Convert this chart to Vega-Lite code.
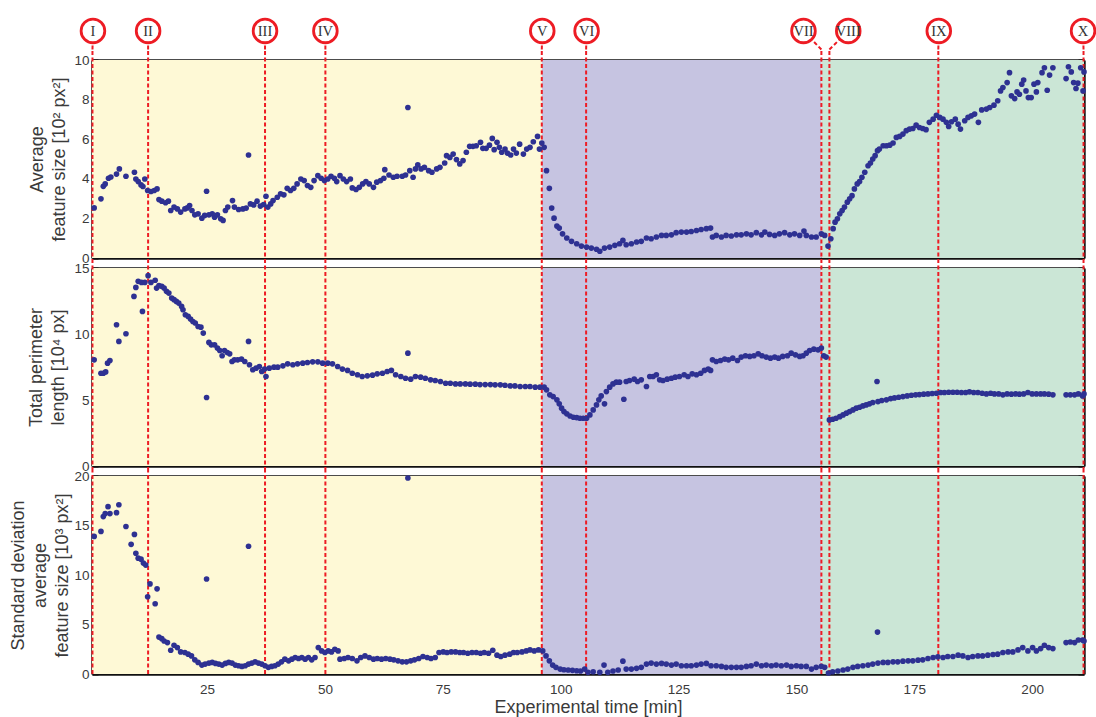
{
  "$schema": "https://vega.github.io/schema/vega-lite/v6.json",
  "background": "white",
  "padding": {"left": 9, "top": 13, "right": 8, "bottom": 0},
  "spacing": 10,
  "bounds": "flush",
  "datasets": {
    "stages": [
      {"stage": "I-V", "start": 0.6, "end": 96.0},
      {"stage": "V-VII", "start": 96.0, "end": 155.3},
      {"stage": "VII-X", "start": 155.3, "end": 211}
    ],
    "events": [
      {"event": "I", "t": 0.7, "tagT": 0.8},
      {"event": "II", "t": 12.5, "tagT": 12.5},
      {"event": "III", "t": 37.3, "tagT": 37.3},
      {"event": "IV", "t": 50.1, "tagT": 50.1},
      {"event": "V", "t": 96.0, "tagT": 96.1},
      {"event": "VI", "t": 105.4, "tagT": 105.5},
      {"event": "VII", "t": 155.3, "tagT": 151.5},
      {"event": "VIII", "t": 157.0, "tagT": 161.0},
      {"event": "IX", "t": 180.1, "tagT": 180.2},
      {"event": "X", "t": 210.9, "tagT": 210.8}
    ],
    "avg": [
      {"t":1.06,"v":2.53},{"t":2.5,"v":2.99},{"t":3.0,"v":3.62},{"t":3.4,"v":3.74},{"t":4.1,"v":4.03},{"t":4.6,"v":4.09},{"t":5.8,"v":4.24},{"t":6.4,"v":4.5},{"t":7.8,"v":4.13},{"t":9.6,"v":4.33},{"t":9.9,"v":3.99},{"t":10.4,"v":3.86},{"t":11.0,"v":3.69},{"t":11.4,"v":3.61},{"t":11.8,"v":3.99},{"t":12.4,"v":3.41},{"t":13.1,"v":3.36},{"t":13.8,"v":3.41},{"t":14.4,"v":3.49},{"t":14.8,"v":2.95},{"t":15.4,"v":2.87},{"t":16.2,"v":2.79},{"t":16.8,"v":2.87},{"t":17.3,"v":2.40},{"t":18.0,"v":2.57},{"t":18.7,"v":2.48},{"t":19.4,"v":2.32},{"t":20.3,"v":2.48},{"t":20.8,"v":2.53},{"t":21.3,"v":2.65},{"t":21.8,"v":2.40},{"t":22.4,"v":2.18},{"t":23.1,"v":2.23},{"t":23.9,"v":2.01},{"t":24.5,"v":2.15},{"t":24.9,"v":3.37},{"t":25.4,"v":2.18},{"t":26.1,"v":2.23},{"t":26.6,"v":2.06},{"t":27.2,"v":2.18},{"t":27.9,"v":1.98},{"t":28.4,"v":1.90},{"t":28.9,"v":2.40},{"t":29.4,"v":2.57},{"t":30.4,"v":2.90},{"t":30.8,"v":2.57},{"t":31.7,"v":2.45},{"t":32.6,"v":2.48},{"t":33.3,"v":2.52},{"t":33.8,"v":5.2},{"t":34.2,"v":2.73},{"t":34.9,"v":2.68},{"t":35.6,"v":2.87},{"t":36.3,"v":2.62},{"t":37.0,"v":2.70},{"t":37.5,"v":3.12},{"t":37.9,"v":2.57},{"t":38.5,"v":2.73},{"t":39.0,"v":2.90},{"t":39.9,"v":3.07},{"t":40.6,"v":3.24},{"t":41.3,"v":3.19},{"t":42.0,"v":3.52},{"t":42.7,"v":3.41},{"t":43.4,"v":3.52},{"t":44.1,"v":3.74},{"t":44.9,"v":3.99},{"t":45.6,"v":3.91},{"t":46.3,"v":3.66},{"t":47.0,"v":3.57},{"t":47.7,"v":3.91},{"t":48.5,"v":4.16},{"t":49.2,"v":4.03},{"t":49.9,"v":3.91},{"t":50.6,"v":3.99},{"t":51.3,"v":4.13},{"t":52.0,"v":4.03},{"t":52.5,"v":3.86},{"t":53.2,"v":4.16},{"t":53.9,"v":3.99},{"t":54.6,"v":3.86},{"t":55.4,"v":3.99},{"t":55.8,"v":3.54},{"t":56.6,"v":3.46},{"t":57.3,"v":3.57},{"t":58.0,"v":3.74},{"t":58.7,"v":3.86},{"t":59.4,"v":3.74},{"t":60.3,"v":3.57},{"t":61.0,"v":3.83},{"t":61.8,"v":3.91},{"t":62.5,"v":4.03},{"t":62.7,"v":4.46},{"t":63.6,"v":4.19},{"t":64.5,"v":4.08},{"t":65.3,"v":4.13},{"t":66.4,"v":4.13},{"t":67.1,"v":4.19},{"t":67.6,"v":7.6},{"t":68.0,"v":4.41},{"t":68.7,"v":4.08},{"t":69.2,"v":4.5},{"t":69.7,"v":4.70},{"t":70.4,"v":4.5},{"t":71.1,"v":4.58},{"t":72.0,"v":4.41},{"t":72.7,"v":4.33},{"t":73.7,"v":4.5},{"t":74.4,"v":4.58},{"t":75.4,"v":4.80},{"t":75.8,"v":5.17},{"t":76.5,"v":5.08},{"t":77.2,"v":5.25},{"t":77.9,"v":4.97},{"t":78.6,"v":4.75},{"t":79.3,"v":4.92},{"t":80.0,"v":5.34},{"t":80.7,"v":5.64},{"t":81.4,"v":5.64},{"t":82.1,"v":5.67},{"t":83.0,"v":5.84},{"t":83.5,"v":5.54},{"t":84.2,"v":5.54},{"t":84.9,"v":5.70},{"t":85.5,"v":6.04},{"t":85.9,"v":5.47},{"t":86.5,"v":5.84},{"t":87.0,"v":5.59},{"t":87.5,"v":5.34},{"t":88.2,"v":5.50},{"t":88.7,"v":5.30},{"t":89.4,"v":5.20},{"t":90.0,"v":5.50},{"t":90.6,"v":5.30},{"t":91.3,"v":5.75},{"t":92.1,"v":5.25},{"t":92.8,"v":5.50},{"t":93.5,"v":5.59},{"t":94.2,"v":5.87},{"t":95.1,"v":6.14},{"t":95.5,"v":5.50},{"t":96.0,"v":5.81},{"t":96.5,"v":5.59},{"t":97.0,"v":4.41},{"t":97.6,"v":3.52},{"t":98.1,"v":2.52},{"t":98.6,"v":2.01},{"t":99.2,"v":1.61},{"t":99.7,"v":1.51},{"t":100.4,"v":1.22},{"t":101.3,"v":1.01},{"t":102.3,"v":0.84},{"t":103.4,"v":0.72},{"t":104.4,"v":0.60},{"t":105.5,"v":0.55},{"t":106.5,"v":0.50},{"t":107.6,"v":0.44},{"t":108.3,"v":0.34},{"t":109.3,"v":0.50},{"t":110.4,"v":0.55},{"t":111.5,"v":0.64},{"t":112.5,"v":0.72},{"t":113.2,"v":0.89},{"t":113.9,"v":0.67},{"t":115.0,"v":0.72},{"t":116.1,"v":0.81},{"t":117.1,"v":0.84},{"t":118.2,"v":1.01},{"t":119.2,"v":0.97},{"t":120.3,"v":1.06},{"t":121.4,"v":1.14},{"t":122.4,"v":1.14},{"t":123.5,"v":1.17},{"t":124.5,"v":1.28},{"t":125.6,"v":1.31},{"t":126.7,"v":1.31},{"t":127.7,"v":1.34},{"t":128.8,"v":1.39},{"t":129.8,"v":1.44},{"t":130.9,"v":1.48},{"t":131.8,"v":1.51},{"t":132.2,"v":1.06},{"t":133.0,"v":1.14},{"t":134.1,"v":1.06},{"t":135.1,"v":1.14},{"t":136.2,"v":1.11},{"t":137.3,"v":1.17},{"t":138.3,"v":1.17},{"t":139.4,"v":1.22},{"t":140.4,"v":1.17},{"t":141.5,"v":1.28},{"t":142.6,"v":1.17},{"t":143.3,"v":1.31},{"t":144.3,"v":1.19},{"t":145.4,"v":1.14},{"t":146.4,"v":1.22},{"t":147.5,"v":1.28},{"t":148.6,"v":1.17},{"t":149.6,"v":1.22},{"t":150.7,"v":1.14},{"t":151.6,"v":1.36},{"t":152.1,"v":1.14},{"t":153.2,"v":1.06},{"t":154.2,"v":1.06},{"t":155.3,"v":1.22},{"t":156.0,"v":1.14},{"t":156.7,"v":0.60},{"t":157.3,"v":0.97},{"t":157.8,"v":1.48},{"t":158.2,"v":1.81},{"t":158.7,"v":1.98},{"t":159.2,"v":2.23},{"t":159.7,"v":2.40},{"t":160.2,"v":2.57},{"t":160.8,"v":2.82},{"t":161.3,"v":2.99},{"t":161.8,"v":3.15},{"t":162.3,"v":3.49},{"t":162.9,"v":3.74},{"t":163.4,"v":3.86},{"t":163.9,"v":4.08},{"t":164.5,"v":4.33},{"t":165.2,"v":4.66},{"t":165.7,"v":4.80},{"t":166.2,"v":5.00},{"t":166.7,"v":5.17},{"t":167.2,"v":5.42},{"t":167.6,"v":5.50},{"t":168.4,"v":5.67},{"t":169.1,"v":5.67},{"t":169.8,"v":5.70},{"t":170.5,"v":5.81},{"t":171.2,"v":6.09},{"t":171.9,"v":6.14},{"t":172.6,"v":6.26},{"t":173.3,"v":6.43},{"t":174.0,"v":6.51},{"t":174.7,"v":6.54},{"t":175.4,"v":6.71},{"t":176.1,"v":6.59},{"t":176.8,"v":6.54},{"t":177.5,"v":6.48},{"t":178.2,"v":6.85},{"t":179.0,"v":7.01},{"t":179.7,"v":7.21},{"t":180.4,"v":7.10},{"t":181.1,"v":7.01},{"t":181.8,"v":6.85},{"t":182.3,"v":6.64},{"t":182.9,"v":6.88},{"t":183.7,"v":7.01},{"t":184.3,"v":6.76},{"t":184.8,"v":6.51},{"t":185.7,"v":6.93},{"t":186.4,"v":7.10},{"t":187.1,"v":7.18},{"t":187.8,"v":7.27},{"t":188.6,"v":6.85},{"t":189.3,"v":7.48},{"t":190.3,"v":7.52},{"t":191.0,"v":7.60},{"t":191.9,"v":7.72},{"t":192.7,"v":7.94},{"t":193.3,"v":8.44},{"t":193.8,"v":8.61},{"t":194.7,"v":8.86},{"t":195.2,"v":9.36},{"t":195.6,"v":8.19},{"t":196.3,"v":8.05},{"t":196.8,"v":8.39},{"t":197.3,"v":8.27},{"t":197.8,"v":8.78},{"t":198.2,"v":8.99},{"t":198.7,"v":8.44},{"t":199.2,"v":8.10},{"t":199.8,"v":8.10},{"t":200.4,"v":8.78},{"t":200.9,"v":8.39},{"t":201.2,"v":8.86},{"t":202.1,"v":9.36},{"t":202.6,"v":9.61},{"t":203.2,"v":8.47},{"t":203.7,"v":9.24},{"t":204.4,"v":9.61},{"t":207.2,"v":9.06},{"t":207.7,"v":9.66},{"t":208.3,"v":9.40},{"t":208.8,"v":8.86},{"t":209.3,"v":8.56},{"t":209.7,"v":8.83},{"t":210.3,"v":9.61},{"t":210.8,"v":8.44},{"t":211.0,"v":9.40}
    ],
    "perim": [
      {"t":1.06,"v":8.04},{"t":2.5,"v":7.03},{"t":3.0,"v":7.03},{"t":3.5,"v":7.13},{"t":3.9,"v":7.79},{"t":4.4,"v":7.99},{"t":5.8,"v":10.70},{"t":6.3,"v":9.44},{"t":7.8,"v":10.02},{"t":9.5,"v":12.85},{"t":9.9,"v":13.53},{"t":10.4,"v":13.99},{"t":11.1,"v":13.91},{"t":11.3,"v":11.71},{"t":11.8,"v":13.91},{"t":12.5,"v":14.42},{"t":13.1,"v":13.91},{"t":14.0,"v":14.07},{"t":14.3,"v":13.48},{"t":14.8,"v":13.66},{"t":15.4,"v":13.61},{"t":15.9,"v":13.48},{"t":16.4,"v":13.23},{"t":16.9,"v":13.10},{"t":17.5,"v":12.72},{"t":18.0,"v":12.60},{"t":18.5,"v":12.47},{"t":19.0,"v":12.34},{"t":19.6,"v":12.09},{"t":19.9,"v":11.84},{"t":20.4,"v":11.46},{"t":21.0,"v":11.33},{"t":21.5,"v":11.13},{"t":22.0,"v":10.95},{"t":22.5,"v":10.83},{"t":23.1,"v":10.57},{"t":23.7,"v":10.52},{"t":24.2,"v":10.07},{"t":24.9,"v":5.19},{"t":25.4,"v":9.36},{"t":25.9,"v":9.18},{"t":26.6,"v":9.18},{"t":27.2,"v":8.93},{"t":27.7,"v":8.75},{"t":28.2,"v":8.35},{"t":28.7,"v":8.75},{"t":29.3,"v":8.60},{"t":29.8,"v":8.50},{"t":30.3,"v":7.92},{"t":30.8,"v":8.04},{"t":31.5,"v":8.04},{"t":32.3,"v":8.10},{"t":33.0,"v":7.92},{"t":33.8,"v":9.44},{"t":34.0,"v":7.67},{"t":34.7,"v":7.29},{"t":35.4,"v":7.41},{"t":36.1,"v":7.54},{"t":36.6,"v":7.16},{"t":37.2,"v":7.34},{"t":37.5,"v":6.78},{"t":38.2,"v":7.41},{"t":39.2,"v":7.49},{"t":40.0,"v":7.49},{"t":41.1,"v":7.59},{"t":42.1,"v":7.74},{"t":43.2,"v":7.67},{"t":44.2,"v":7.74},{"t":45.3,"v":7.79},{"t":46.3,"v":7.84},{"t":47.4,"v":7.89},{"t":48.5,"v":7.89},{"t":49.5,"v":7.79},{"t":50.6,"v":7.79},{"t":51.6,"v":7.74},{"t":52.7,"v":7.54},{"t":53.7,"v":7.34},{"t":54.8,"v":7.24},{"t":55.8,"v":7.03},{"t":56.9,"v":6.91},{"t":57.9,"v":6.78},{"t":59.0,"v":6.83},{"t":60.1,"v":6.88},{"t":61.1,"v":6.98},{"t":62.2,"v":7.03},{"t":63.2,"v":7.16},{"t":64.1,"v":7.24},{"t":65.0,"v":6.91},{"t":66.1,"v":6.78},{"t":67.1,"v":6.65},{"t":67.6,"v":8.55},{"t":68.2,"v":6.58},{"t":69.2,"v":6.78},{"t":70.3,"v":6.73},{"t":71.3,"v":6.65},{"t":72.4,"v":6.53},{"t":73.4,"v":6.48},{"t":74.5,"v":6.40},{"t":75.6,"v":6.27},{"t":76.6,"v":6.27},{"t":77.7,"v":6.22},{"t":78.7,"v":6.22},{"t":79.8,"v":6.22},{"t":80.8,"v":6.20},{"t":81.9,"v":6.20},{"t":82.9,"v":6.17},{"t":84.0,"v":6.17},{"t":85.1,"v":6.17},{"t":86.1,"v":6.15},{"t":87.2,"v":6.15},{"t":88.2,"v":6.12},{"t":89.3,"v":6.07},{"t":90.3,"v":6.07},{"t":91.4,"v":6.02},{"t":92.5,"v":6.02},{"t":93.5,"v":6.02},{"t":94.6,"v":5.97},{"t":95.6,"v":5.97},{"t":96.5,"v":5.97},{"t":97.0,"v":5.77},{"t":97.7,"v":5.39},{"t":98.4,"v":5.26},{"t":99.2,"v":5.01},{"t":99.7,"v":4.71},{"t":100.2,"v":4.38},{"t":100.7,"v":4.12},{"t":101.3,"v":3.95},{"t":102.0,"v":3.79},{"t":102.7,"v":3.69},{"t":103.4,"v":3.67},{"t":104.1,"v":3.62},{"t":104.8,"v":3.62},{"t":105.5,"v":3.62},{"t":106.2,"v":3.87},{"t":106.9,"v":4.25},{"t":107.6,"v":4.63},{"t":108.1,"v":5.01},{"t":108.6,"v":5.31},{"t":109.3,"v":4.71},{"t":109.7,"v":5.64},{"t":110.4,"v":5.97},{"t":111.1,"v":6.22},{"t":111.8,"v":6.35},{"t":112.5,"v":6.35},{"t":113.4,"v":5.06},{"t":113.9,"v":6.40},{"t":114.6,"v":6.48},{"t":115.6,"v":6.58},{"t":116.3,"v":6.40},{"t":117.1,"v":6.53},{"t":118.2,"v":6.02},{"t":118.9,"v":6.78},{"t":119.6,"v":6.78},{"t":120.3,"v":6.91},{"t":121.0,"v":6.53},{"t":121.7,"v":6.48},{"t":122.6,"v":6.58},{"t":123.5,"v":6.65},{"t":124.3,"v":6.73},{"t":125.2,"v":6.78},{"t":126.2,"v":6.91},{"t":127.0,"v":6.78},{"t":127.9,"v":6.98},{"t":128.8,"v":6.91},{"t":129.7,"v":7.03},{"t":130.5,"v":7.24},{"t":131.3,"v":7.34},{"t":131.8,"v":7.24},{"t":132.2,"v":8.04},{"t":133.0,"v":7.92},{"t":133.9,"v":7.99},{"t":134.8,"v":8.10},{"t":135.6,"v":8.04},{"t":136.5,"v":8.17},{"t":137.5,"v":7.99},{"t":138.3,"v":8.25},{"t":139.2,"v":8.35},{"t":140.1,"v":8.30},{"t":141.0,"v":8.35},{"t":141.9,"v":8.50},{"t":142.7,"v":8.35},{"t":143.6,"v":8.25},{"t":144.5,"v":8.17},{"t":145.4,"v":8.25},{"t":146.2,"v":8.17},{"t":147.1,"v":8.30},{"t":148.1,"v":8.35},{"t":148.9,"v":8.55},{"t":149.8,"v":8.42},{"t":150.7,"v":8.30},{"t":151.4,"v":8.35},{"t":152.1,"v":8.55},{"t":152.8,"v":8.75},{"t":153.7,"v":8.85},{"t":154.6,"v":8.80},{"t":155.3,"v":8.93},{"t":155.8,"v":8.35},{"t":156.3,"v":8.25},{"t":157.0,"v":3.49},{"t":157.7,"v":3.54},{"t":158.4,"v":3.62},{"t":159.2,"v":3.74},{"t":159.9,"v":3.87},{"t":160.6,"v":4.00},{"t":161.3,"v":4.12},{"t":162.0,"v":4.25},{"t":162.7,"v":4.38},{"t":163.4,"v":4.45},{"t":164.1,"v":4.55},{"t":164.8,"v":4.63},{"t":165.5,"v":4.71},{"t":166.2,"v":4.81},{"t":167.1,"v":6.40},{"t":167.3,"v":4.88},{"t":168.1,"v":4.96},{"t":169.1,"v":5.01},{"t":170.0,"v":5.11},{"t":170.8,"v":5.16},{"t":171.7,"v":5.21},{"t":172.6,"v":5.26},{"t":173.5,"v":5.31},{"t":174.4,"v":5.36},{"t":175.3,"v":5.39},{"t":176.1,"v":5.41},{"t":177.0,"v":5.44},{"t":177.9,"v":5.46},{"t":178.8,"v":5.49},{"t":179.7,"v":5.51},{"t":180.6,"v":5.57},{"t":181.4,"v":5.57},{"t":182.3,"v":5.59},{"t":183.2,"v":5.59},{"t":184.1,"v":5.59},{"t":185.0,"v":5.57},{"t":185.9,"v":5.57},{"t":186.7,"v":5.62},{"t":187.6,"v":5.57},{"t":188.5,"v":5.57},{"t":189.4,"v":5.51},{"t":190.3,"v":5.46},{"t":191.2,"v":5.51},{"t":192.0,"v":5.46},{"t":192.9,"v":5.46},{"t":193.8,"v":5.39},{"t":194.7,"v":5.46},{"t":195.6,"v":5.44},{"t":196.5,"v":5.46},{"t":197.3,"v":5.44},{"t":198.2,"v":5.46},{"t":199.1,"v":5.57},{"t":200.0,"v":5.46},{"t":200.9,"v":5.46},{"t":201.8,"v":5.46},{"t":202.6,"v":5.46},{"t":203.5,"v":5.44},{"t":204.4,"v":5.39},{"t":207.2,"v":5.39},{"t":208.1,"v":5.39},{"t":209.0,"v":5.39},{"t":209.8,"v":5.46},{"t":210.7,"v":5.31},{"t":211.0,"v":5.46}
    ],
    "sd": [
      {"t":1.06,"v":13.9},{"t":2.5,"v":14.4},{"t":3.0,"v":15.9},{"t":3.4,"v":16.2},{"t":4.0,"v":16.9},{"t":4.4,"v":16.2},{"t":5.8,"v":16.3},{"t":6.3,"v":17.1},{"t":7.8,"v":14.9},{"t":8.9,"v":13.1},{"t":9.6,"v":14.1},{"t":9.9,"v":12.2},{"t":10.4,"v":11.7},{"t":11.0,"v":11.6},{"t":11.5,"v":11.2},{"t":12.0,"v":11.0},{"t":12.4,"v":7.8},{"t":12.9,"v":9.1},{"t":14.0,"v":7.1},{"t":14.4,"v":8.6},{"t":14.8,"v":3.73},{"t":15.4,"v":3.57},{"t":15.9,"v":3.33},{"t":16.6,"v":3.17},{"t":17.3,"v":2.40},{"t":18.0,"v":2.90},{"t":18.7,"v":2.67},{"t":19.4,"v":2.23},{"t":20.3,"v":2.17},{"t":21.0,"v":2.00},{"t":21.7,"v":1.83},{"t":22.4,"v":1.43},{"t":23.1,"v":1.17},{"t":23.9,"v":0.90},{"t":24.6,"v":1.00},{"t":24.9,"v":9.6},{"t":25.4,"v":1.10},{"t":26.1,"v":1.17},{"t":26.8,"v":1.07},{"t":27.5,"v":1.00},{"t":28.2,"v":0.90},{"t":28.9,"v":1.07},{"t":29.6,"v":1.17},{"t":30.3,"v":1.10},{"t":31.0,"v":0.90},{"t":31.7,"v":0.83},{"t":32.4,"v":0.77},{"t":33.1,"v":0.83},{"t":33.8,"v":1.00},{"t":33.8,"v":12.9},{"t":34.5,"v":1.10},{"t":35.2,"v":1.23},{"t":35.9,"v":1.10},{"t":36.6,"v":1.00},{"t":37.3,"v":0.83},{"t":38.0,"v":0.67},{"t":38.7,"v":0.77},{"t":39.4,"v":0.83},{"t":40.1,"v":1.00},{"t":40.8,"v":1.23},{"t":41.5,"v":1.50},{"t":42.3,"v":1.33},{"t":43.0,"v":1.50},{"t":43.7,"v":1.67},{"t":44.4,"v":1.57},{"t":45.1,"v":1.67},{"t":45.8,"v":1.50},{"t":46.5,"v":1.67},{"t":47.2,"v":1.43},{"t":47.9,"v":1.67},{"t":48.6,"v":2.67},{"t":49.3,"v":2.33},{"t":50.0,"v":2.17},{"t":50.7,"v":2.33},{"t":51.4,"v":2.23},{"t":52.1,"v":2.50},{"t":52.8,"v":2.33},{"t":53.2,"v":1.50},{"t":54.1,"v":1.57},{"t":54.9,"v":1.67},{"t":55.8,"v":1.57},{"t":56.8,"v":1.33},{"t":57.6,"v":1.67},{"t":58.5,"v":1.83},{"t":59.4,"v":1.67},{"t":60.3,"v":1.50},{"t":61.1,"v":1.57},{"t":62.0,"v":1.50},{"t":62.9,"v":1.57},{"t":63.8,"v":1.50},{"t":64.6,"v":1.43},{"t":65.5,"v":1.33},{"t":66.4,"v":1.23},{"t":67.3,"v":1.23},{"t":67.6,"v":19.8},{"t":68.2,"v":1.33},{"t":69.0,"v":1.43},{"t":69.9,"v":1.57},{"t":70.8,"v":1.77},{"t":71.7,"v":1.67},{"t":72.5,"v":1.57},{"t":73.4,"v":1.67},{"t":74.2,"v":2.17},{"t":75.1,"v":2.23},{"t":75.9,"v":2.17},{"t":76.8,"v":2.23},{"t":77.7,"v":2.23},{"t":78.6,"v":2.17},{"t":79.4,"v":2.17},{"t":80.3,"v":2.10},{"t":81.2,"v":2.17},{"t":82.1,"v":2.17},{"t":83.0,"v":2.10},{"t":83.8,"v":2.17},{"t":84.7,"v":2.10},{"t":85.6,"v":2.40},{"t":86.5,"v":1.90},{"t":87.3,"v":1.77},{"t":88.2,"v":1.90},{"t":89.2,"v":2.00},{"t":90.0,"v":2.17},{"t":90.8,"v":2.17},{"t":91.8,"v":2.23},{"t":92.7,"v":2.33},{"t":93.5,"v":2.43},{"t":94.4,"v":2.33},{"t":95.3,"v":2.43},{"t":96.2,"v":2.33},{"t":96.9,"v":1.83},{"t":97.6,"v":1.33},{"t":98.3,"v":0.90},{"t":99.0,"v":0.67},{"t":99.9,"v":0.50},{"t":100.7,"v":0.43},{"t":101.6,"v":0.40},{"t":102.5,"v":0.37},{"t":103.4,"v":0.33},{"t":104.2,"v":0.30},{"t":105.1,"v":0.50},{"t":105.8,"v":0.17},{"t":106.9,"v":0.23},{"t":108.3,"v":0.17},{"t":109.2,"v":0.90},{"t":110.0,"v":0.17},{"t":111.1,"v":0.30},{"t":112.2,"v":0.40},{"t":113.2,"v":1.30},{"t":113.9,"v":0.50},{"t":115.0,"v":0.50},{"t":116.1,"v":0.57},{"t":117.1,"v":0.67},{"t":118.2,"v":1.00},{"t":119.2,"v":1.10},{"t":120.3,"v":1.00},{"t":121.4,"v":1.07},{"t":122.4,"v":1.00},{"t":123.5,"v":0.90},{"t":124.5,"v":1.00},{"t":125.6,"v":0.83},{"t":126.7,"v":0.83},{"t":127.7,"v":0.83},{"t":128.8,"v":0.90},{"t":129.8,"v":1.00},{"t":130.9,"v":1.07},{"t":131.9,"v":0.83},{"t":133.0,"v":0.83},{"t":134.1,"v":0.77},{"t":135.1,"v":0.67},{"t":136.2,"v":0.67},{"t":137.3,"v":0.67},{"t":138.3,"v":0.67},{"t":139.4,"v":0.77},{"t":140.4,"v":0.83},{"t":141.5,"v":1.00},{"t":142.6,"v":0.83},{"t":143.6,"v":0.90},{"t":144.7,"v":0.83},{"t":145.7,"v":0.90},{"t":146.8,"v":0.83},{"t":147.9,"v":0.90},{"t":148.9,"v":0.77},{"t":150.0,"v":0.83},{"t":151.0,"v":0.77},{"t":152.1,"v":0.77},{"t":153.2,"v":0.50},{"t":154.2,"v":0.67},{"t":155.3,"v":0.77},{"t":156.0,"v":0.67},{"t":156.8,"v":0.10},{"t":157.7,"v":0.23},{"t":158.8,"v":0.30},{"t":159.9,"v":0.40},{"t":160.9,"v":0.50},{"t":162.0,"v":0.67},{"t":163.0,"v":0.77},{"t":164.1,"v":0.83},{"t":165.2,"v":0.90},{"t":166.2,"v":1.00},{"t":167.2,"v":4.23},{"t":167.3,"v":1.10},{"t":168.4,"v":1.17},{"t":169.4,"v":1.17},{"t":170.5,"v":1.23},{"t":171.5,"v":1.23},{"t":172.6,"v":1.30},{"t":173.7,"v":1.33},{"t":174.7,"v":1.33},{"t":175.8,"v":1.40},{"t":176.8,"v":1.43},{"t":177.9,"v":1.57},{"t":179.0,"v":1.67},{"t":180.0,"v":1.73},{"t":181.1,"v":1.67},{"t":182.1,"v":1.77},{"t":183.2,"v":1.77},{"t":184.3,"v":1.90},{"t":185.3,"v":1.83},{"t":186.4,"v":1.67},{"t":187.4,"v":1.77},{"t":188.5,"v":1.83},{"t":189.5,"v":1.83},{"t":190.6,"v":1.90},{"t":191.7,"v":1.97},{"t":192.7,"v":2.00},{"t":193.8,"v":2.17},{"t":194.9,"v":2.23},{"t":195.9,"v":2.23},{"t":197.0,"v":2.43},{"t":198.0,"v":2.67},{"t":199.1,"v":2.33},{"t":200.1,"v":2.67},{"t":200.9,"v":2.33},{"t":201.8,"v":2.57},{"t":202.6,"v":2.90},{"t":203.5,"v":2.67},{"t":204.4,"v":2.57},{"t":207.2,"v":3.17},{"t":208.1,"v":3.23},{"t":209.0,"v":3.17},{"t":209.8,"v":3.43},{"t":210.7,"v":3.43},{"t":211.0,"v":3.33}
    ]
  },
  "vconcat": [
    {
      "width": 992,
      "height": 198,
      "layer": [
        {
          "data": {"name": "stages"},
          "mark": {"type": "rect"},
          "encoding": {
            "x": {"field": "start", "type": "quantitative", "scale": {"domain": [0.6, 211], "nice": false, "zero": false}, "axis": {"orient": "top", "values": [25, 50, 75, 100, 125, 150, 175, 200], "labels": false, "title": null}},
            "x2": {"field": "end"},
            "color": {"field": "stage", "type": "nominal", "scale": {"domain": ["I-V", "V-VII", "VII-X"], "range": ["#fef9d6", "#c6c4e1", "#cbe6d6"]}, "legend": null}
          }
        },
        {
          "data": {"name": "events"},
          "mark": {"type": "rule", "color": "#ed1c24", "strokeWidth": 2, "strokeDash": [4, 2.5]},
          "encoding": {
            "x": {"field": "t", "type": "quantitative", "scale": {"domain": [0.6, 211], "nice": false, "zero": false}, "axis": null},
            "y": {"datum": -0.25, "type": "quantitative", "scale": {"domain": [0, 10], "nice": false, "zero": false}, "axis": {"orient": "right", "values": [0, 2, 4, 6, 8, 10], "labels": false, "title": null}},
            "y2": {"datum": 10.53}
          }
        },
        {
          "data": {"name": "events"},
          "mark": {"type": "rule", "color": "#ed1c24", "strokeWidth": 2, "strokeDash": [4, 2.5]},
          "encoding": {
            "x": {"field": "t", "type": "quantitative", "scale": {"domain": [0.6, 211], "nice": false, "zero": false}, "axis": null},
            "x2": {"field": "tagT"},
            "y": {"datum": 10.53, "type": "quantitative", "scale": {"domain": [0, 10], "nice": false, "zero": false}, "axis": null},
            "y2": {"datum": 11.47}
          }
        },
        {
          "data": {"name": "avg"},
          "mark": {"type": "circle", "size": 32, "color": "#2e3192", "opacity": 1},
          "encoding": {
            "x": {"field": "t", "type": "quantitative", "scale": {"domain": [0.6, 211], "nice": false, "zero": false}, "axis": {"orient": "bottom", "values": [25, 50, 75, 100, 125, 150, 175, 200], "labels": false, "title": null}},
            "y": {"field": "v", "type": "quantitative", "scale": {"domain": [0, 10], "nice": false, "zero": false}, "axis": {"orient": "left", "values": [0, 2, 4, 6, 8, 10], "titlePadding": 5, "title": ["Average", "feature size [10² px²]"]}}
          }
        },
        {
          "data": {"name": "events"},
          "mark": {"type": "point", "shape": "circle", "size": 560, "filled": true, "fill": "white", "stroke": "#ed1c24", "strokeWidth": 2.8, "opacity": 1},
          "encoding": {
            "x": {"field": "tagT", "type": "quantitative", "scale": {"domain": [0.6, 211], "nice": false, "zero": false}, "axis": null},
            "y": {"datum": 11.47, "type": "quantitative", "scale": {"domain": [0, 10], "nice": false, "zero": false}, "axis": null}
          }
        },
        {
          "data": {"name": "events"},
          "mark": {"type": "text", "font": "Liberation Serif", "fontSize": 14.5, "color": "#333333", "baseline": "middle", "align": "center", "dy": 1},
          "encoding": {
            "x": {"field": "tagT", "type": "quantitative", "scale": {"domain": [0.6, 211], "nice": false, "zero": false}, "axis": null},
            "y": {"datum": 11.47, "type": "quantitative", "scale": {"domain": [0, 10], "nice": false, "zero": false}, "axis": null},
            "text": {"field": "event"}
          }
        }
      ],
      "resolve": {"axis": {"x": "independent", "y": "independent"}}
    },
    {
      "width": 992,
      "height": 198,
      "layer": [
        {
          "data": {"name": "stages"},
          "mark": {"type": "rect"},
          "encoding": {
            "x": {"field": "start", "type": "quantitative", "scale": {"domain": [0.6, 211], "nice": false, "zero": false}, "axis": {"orient": "top", "values": [25, 50, 75, 100, 125, 150, 175, 200], "labels": false, "title": null}},
            "x2": {"field": "end"},
            "color": {"field": "stage", "type": "nominal", "scale": {"domain": ["I-V", "V-VII", "VII-X"], "range": ["#fef9d6", "#c6c4e1", "#cbe6d6"]}, "legend": null}
          }
        },
        {
          "data": {"name": "events"},
          "mark": {"type": "rule", "color": "#ed1c24", "strokeWidth": 2, "strokeDash": [4, 2.5]},
          "encoding": {
            "x": {"field": "t", "type": "quantitative", "scale": {"domain": [0.6, 211], "nice": false, "zero": false}, "axis": null},
            "y": {"datum": -0.38, "type": "quantitative", "scale": {"domain": [0, 15], "nice": false, "zero": false}, "axis": {"orient": "right", "values": [0, 5, 10, 15], "labels": false, "title": null}},
            "y2": {"datum": 15.38}
          }
        },
        {
          "data": {"name": "perim"},
          "mark": {"type": "circle", "size": 32, "color": "#2e3192", "opacity": 1},
          "encoding": {
            "x": {"field": "t", "type": "quantitative", "scale": {"domain": [0.6, 211], "nice": false, "zero": false}, "axis": {"orient": "bottom", "values": [25, 50, 75, 100, 125, 150, 175, 200], "labels": false, "title": null}},
            "y": {"field": "v", "type": "quantitative", "scale": {"domain": [0, 15], "nice": false, "zero": false}, "axis": {"orient": "left", "values": [0, 5, 10, 15], "titlePadding": 6, "title": ["Total perimeter", "length [10⁴ px]"]}}
          }
        }
      ],
      "resolve": {"axis": {"x": "independent", "y": "independent"}}
    },
    {
      "width": 992,
      "height": 198,
      "layer": [
        {
          "data": {"name": "stages"},
          "mark": {"type": "rect"},
          "encoding": {
            "x": {"field": "start", "type": "quantitative", "scale": {"domain": [0.6, 211], "nice": false, "zero": false}, "axis": {"orient": "top", "values": [25, 50, 75, 100, 125, 150, 175, 200], "labels": false, "title": null}},
            "x2": {"field": "end"},
            "color": {"field": "stage", "type": "nominal", "scale": {"domain": ["I-V", "V-VII", "VII-X"], "range": ["#fef9d6", "#c6c4e1", "#cbe6d6"]}, "legend": null}
          }
        },
        {
          "data": {"name": "events"},
          "mark": {"type": "rule", "color": "#ed1c24", "strokeWidth": 2, "strokeDash": [4, 2.5]},
          "encoding": {
            "x": {"field": "t", "type": "quantitative", "scale": {"domain": [0.6, 211], "nice": false, "zero": false}, "axis": null},
            "y": {"datum": 0, "type": "quantitative", "scale": {"domain": [0, 20], "nice": false, "zero": false}, "axis": {"orient": "right", "values": [0, 5, 10, 15, 20], "labels": false, "title": null}},
            "y2": {"datum": 20.5}
          }
        },
        {
          "data": {"name": "sd"},
          "mark": {"type": "circle", "size": 32, "color": "#2e3192", "opacity": 1},
          "encoding": {
            "x": {"field": "t", "type": "quantitative", "scale": {"domain": [0.6, 211], "nice": false, "zero": false}, "axis": {"orient": "bottom", "values": [25, 50, 75, 100, 125, 150, 175, 200], "title": "Experimental time [min]", "labelPadding": 14, "titlePadding": 3}},
            "y": {"field": "v", "type": "quantitative", "scale": {"domain": [0, 20], "nice": false, "zero": false}, "axis": {"orient": "left", "values": [0, 5, 10, 15, 20], "titlePadding": 2, "title": ["Standard deviation", "average", "feature size [10³ px²]"]}}
          }
        }
      ],
      "resolve": {"axis": {"x": "independent", "y": "independent"}}
    }
  ],
  "config": {
    "view": {"stroke": null},
    "font": "Liberation Sans",
    "axis": {
      "grid": false,
      "zindex": 1,
      "domainColor": "#111111",
      "domainWidth": 2.4,
      "tickColor": "#111111",
      "tickWidth": 2,
      "tickSize": -6,
      "labelFont": "Liberation Sans",
      "labelFontSize": 13.5,
      "labelColor": "#3a3a3a",
      "labelPadding": 9,
      "titleFont": "Liberation Sans",
      "titleFontSize": 18,
      "titleFontWeight": "normal",
      "titleColor": "#3a3a3a",
      "titleLineHeight": 22,
      "titlePadding": 2
    }
  }
}
